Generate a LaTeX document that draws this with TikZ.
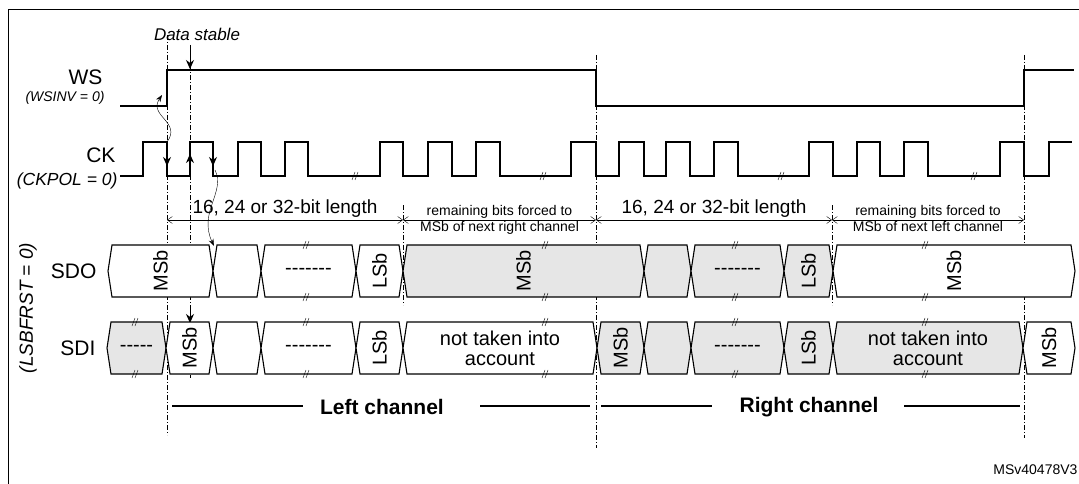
\documentclass[tikz,border=0pt]{standalone}
\usepackage{fontspec}
\setmainfont{Liberation Sans}
\usetikzlibrary{arrows.meta}
\definecolor{busgray}{RGB}{230,230,230}
\newcommand{\hw}{26}
\newcommand{\fs}[1]{\fontsize{#1}{#1}\selectfont}
\newcommand{\dts}[1]{\foreach \i in {1,...,#1}{-}}
% one bus cell: start, end, mid y, fill, rotation, label
\newcommand{\bcell}[6]{
	\filldraw [bus, fill=#4] (#1,#3) -- (#1+4,#3-\hw) -- (#2-4,#3-\hw) -- (#2,#3) -- (#2-4,#3+\hw) -- (#1+4,#3+\hw) -- cycle;
	\node [celltxt, rotate=#5] at ({(#1+#2)/2},#3) {#6};
	}
% break mark on a line
\newcommand{\brk}[2]{
	\draw [thin] (#1-3,#2+4) -- (#1,#2-4);
	\draw [thin] (#1,#2+4) -- (#1+3,#2-4);
	}
\begin{document}
\begin{tikzpicture}[
      x=1pt, y=-1pt,
      sig/.style={line width=1.2pt},
      bus/.style={line width=1.1pt},
      celltxt/.style={font=\fs{20}, align=center},
      sdash/.style={thin, dash pattern=on 5pt off 2pt on 1pt off 2pt},
      dim/.style={thin, <->, >={Straight Barb[length=5pt,width=7pt]}},
      varr/.style={thick, -{Stealth[length=9pt,width=8pt]}},
      carr/.style={thin, -{Stealth[length=7pt,width=5pt]}},
      lab/.style={font=\fs{21}},
      ilab/.style={font=\fs{15}\itshape},
      chan/.style={line width=2.5pt}
    ]
    \useasboundingbox (0,0) rectangle (1079,484);
    % frame
    \draw [thick] (8,484) -- (8,9) -- (1079,9);
    % dash-dot markers
    \draw [sdash] (167,35) -- (167,435);
    \draw [sdash] (190,55) -- (190,378);
    \draw [sdash] (596,55) -- (596,448);
    \draw [sdash] (1024,55) -- (1024,438);
    \draw [sdash] (403,205) -- (403,305);
    \draw [sdash] (832,205) -- (832,305);
    % signal names
    \node [lab, anchor=east] (ws) at (106,77) {WS};
    \node [ilab, font=\fs{14}\itshape, anchor=east] (wsinv) at (108,98) {(WSINV = 0)};
    \node [lab, anchor=east] (ck) at (119,155) {CK};
    \node [ilab, font=\fs{17.5}\itshape, anchor=east] (ckpol) at (121,181) {(CKPOL = 0)};
    \node [lab, anchor=east] (sdo) at (100,271) {SDO};
    \node [lab, anchor=east] (sdi) at (99,348) {SDI};
    \node [ilab, font=\fs{19}\itshape, rotate=90] (lsb) at (28,308) {(LSBFRST = 0)};
    \node [ilab, font=\fs{17}\itshape] (stable) at (197,34) {Data stable};
    % WS
    \draw [sig] (120,106) -- (167,106) -- (167,70) -- (596,70) -- (596,106) -- (1024,106) -- (1024,70) -- (1074,70);
    % CK
    \draw [sig] (120,176) \foreach \r/\f in {143/167,190/213,238/261,285/308,380/403,428/452,476/500,571/596,619/644,666/690,714/738,809/833,857/880,904/928,1000/1024}{ -- (\r,176) -- (\r,142) -- (\f,142) -- (\f,176)} -- (1049,176) -- (1049,142) -- (1072,142);
    \foreach \x in {355,543,781,974} \brk{\x}{176};
    % edge arrows
    \coordinate (ds0) at (190,45);   \coordinate (ds1) at (190,69);
    \draw [varr] (ds0) -- (ds1);
    \coordinate (e0) at (167,142); \coordinate (e1) at (167,166);
    \coordinate (e2) at (190,176); \coordinate (e3) at (190,154);
    \coordinate (e4) at (213,142); \coordinate (e5) at (213,166);
    \draw [varr] (e0) -- (e1);
    \draw [varr] (e2) -- (e3);
    \draw [varr] (e4) -- (e5);
    \coordinate (w0) at (162,95);
    \draw [carr] (e0) .. controls (182,122) and (148,116) .. (w0);
    \coordinate (s0) at (215,170); \coordinate (s1) at (214,246);
    \draw [carr] (s0) .. controls (226,192) and (198,212) .. (s1);
    \coordinate (i0) at (190,306); \coordinate (i1) at (190,323);
    \draw [varr] (i0) -- (i1);
    % lengths
    \coordinate (m0) at (167,220); \coordinate (m1) at (403,220);
    \coordinate (m2) at (596,220); \coordinate (m3) at (832,220);
    \coordinate (m4) at (1024,220);
    \draw [dim] (m0) -- (m1) node [midway, above, font=\fs{19}, inner sep=2pt] {16, 24 or 32-bit length};
    \draw [dim] (m1) -- (m2) node [midway, above, font=\fs{14}, inner sep=1pt] {remaining bits forced to}
                              node [midway, below, font=\fs{14}, inner sep=1pt] {MSb of next right channel};
    \draw [dim] (m2) -- (m3) node [midway, above, font=\fs{19}, inner sep=2pt] {16, 24 or 32-bit length};
    \draw [dim] (m3) -- (m4) node [midway, above, font=\fs{14}, inner sep=1pt] {remaining bits forced to}
                              node [midway, below, font=\fs{14}, inner sep=1pt] {MSb of next left channel};
    % SDO
    \foreach \a/\b/\c/\r/\t in {108/213/white/90/MSb, 213/261/white/0/{}, 261/356/white/0/{\dts{7}}, 356/403/white/90/LSb,
        403/644/busgray/90/MSb, 644/691/busgray/0/{}, 691/784/busgray/0/{\dts{7}}, 784/833/busgray/90/LSb, 833/1075/white/90/MSb}
        {\bcell{\a}{\b}{271}{\c}{\r}{\t}}
    % SDI
    \foreach \a/\b/\c/\r/\t in {107/166/busgray/0/{\dts{5}}, 166/213/white/90/MSb, 213/261/white/0/{}, 261/356/white/0/{\dts{7}},
        356/403/white/90/LSb, 403/597/white/0/{not taken into\\account}, 597/644/busgray/90/MSb, 644/691/busgray/0/{},
        691/784/busgray/0/{\dts{7}}, 784/833/busgray/90/LSb, 833/1023/busgray/0/{not taken into\\account}, 1023/1075/white/90/MSb}
        {\bcell{\a}{\b}{348}{\c}{\r}{\t}}
    \foreach \x in {306,545,735,925} {\brk{\x}{245} \brk{\x}{297}}
    \foreach \x in {135,306,545,735,925} {\brk{\x}{322} \brk{\x}{374}}
    % channels
    \node [font=\fs{21}\bfseries] (left) at (382,407) {Left channel};
    \node [font=\fs{21}\bfseries] (right) at (809,407) {Right channel};
    \coordinate (l0) at (172,406); \coordinate (l1) at (303,406);
    \coordinate (l2) at (480,406); \coordinate (l3) at (590,406);
    \coordinate (r0) at (601,406); \coordinate (r1) at (712,406);
    \coordinate (r2) at (904,406); \coordinate (r3) at (1020,406);
    \draw [chan] (l0) -- (l1);  \draw [chan] (l2) -- (l3);
    \draw [chan] (r0) -- (r1);  \draw [chan] (r2) -- (r3);
    \node [font=\fs{14}, anchor=east] (ref) at (1081,470) {MSv40478V3};
\end{tikzpicture}
\end{document}
